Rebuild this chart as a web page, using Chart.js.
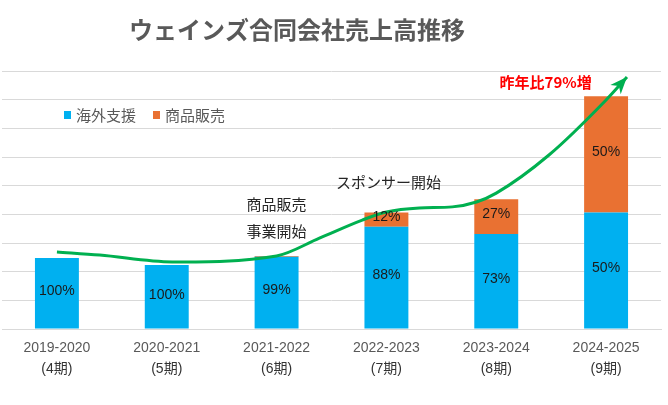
<!DOCTYPE html>
<html lang="ja">
<head>
<meta charset="utf-8">
<script src="https://cdn.jsdelivr.net/npm/chart.js@4.4.1/dist/chart.umd.min.js"></script>
<style>
html,body{margin:0;padding:0;background:#fff;}
#wrap{width:668px;height:405px;}
</style>
</head>
<body>
<div id="wrap"><canvas id="salesChart" width="668" height="405"></canvas></div>
<script>
// 売上（相対値、目盛は非表示）
const periods = [['2019-2020','(4期)'],['2020-2021','(5期)'],['2021-2022','(6期)'],['2022-2023','(7期)'],['2023-2024','(8期)'],['2024-2025','(9期)']];
const overseasSupport = [2.48, 2.23, 2.52, 3.57, 3.31, 4.06];
const productSales = [0, 0, 0.03, 0.49, 1.22, 4.06];
const overseasPct = ['100%','100%','99%','88%','73%','50%'];
const productPct = ['','','','12%','27%','50%'];
// 手書き風の成長トレンド線
const trendX = [0, 0.39, 1.05, 2, 2.39, 2.78, 3, 3.3, 3.6, 3.82, 4, 4.48, 5, 5.19];
const trendY = [2.69, 2.58, 2.34, 2.55, 3.17, 3.8, 4.08, 4.22, 4.26, 4.43, 4.74, 6.07, 7.99, 8.79];
const yMax = 9;
const notes = [
  {text:'商品販売', x:2, y:4.36, color:'#262626', bold:false},
  {text:'事業開始', x:2, y:3.42, color:'#262626', bold:false},
  {text:'スポンサー開始', x:3.02, y:5.13, color:'#262626', bold:false},
  {text:'昨年比79%増', x:4.45, y:8.61, color:'#ff0000', bold:true}
];

const FONT = "'Liberation Sans','Noto Sans CJK JP',sans-serif";
const JPFONT = "'Noto Sans CJK JP','Liberation Sans',sans-serif";

const decorPlugin = {
  id:'decor',
  afterDatasetsDraw(chart){
    const ctx = chart.ctx, xs = chart.scales.x2, ys = chart.scales.y, xc = chart.scales.x;
    ctx.save();
    // bar percentage labels
    ctx.font = '14px ' + FONT; ctx.fillStyle = '#1a1a1a';
    ctx.textAlign = 'center'; ctx.textBaseline = 'middle';
    [[1, overseasPct],[2, productPct]].forEach(([di, pcts])=>{
      chart.getDatasetMeta(di).data.forEach((bar,i)=>{
        if(!pcts[i]) return;
        ctx.fillText(pcts[i], bar.x, (bar.y + bar.base)/2 - 2);
      });
    });
    // x labels: year line grey, period line darker
    periods.forEach((p,i)=>{
      const px = xc.getPixelForTick(i);
      ctx.font = '14px ' + FONT;
      ctx.fillStyle = '#595959'; ctx.fillText(p[0], px, xc.top + 19);
      ctx.fillStyle = '#333333'; ctx.fillText(p[1], px, xc.top + 40);
    });
    // arrow head at the end of the trend line
    const pts = chart.getDatasetMeta(0).data;
    const a = pts[pts.length-2], b = pts[pts.length-1];
    const ang = Math.atan2(b.y - a.y, b.x - a.x);
    const c = Math.cos(ang), s = Math.sin(ang);
    ctx.fillStyle = '#00b050';
    ctx.beginPath();
    ctx.moveTo(b.x, b.y);
    ctx.lineTo(b.x - 17*c + 7*s, b.y - 17*s - 7*c);
    ctx.lineTo(b.x - 12*c, b.y - 12*s);
    ctx.lineTo(b.x - 17*c - 7*s, b.y - 17*s + 7*c);
    ctx.closePath(); ctx.fill();
    // notes
    notes.forEach(n=>{
      ctx.font = (n.bold ? 'bold ' : '') + '15px ' + JPFONT;
      ctx.fillStyle = n.color;
      ctx.fillText(n.text, xs.getPixelForValue(n.x), ys.getPixelForValue(n.y));
    });
    // legend inside plot
    let lx = 64;
    [1,2].forEach(di=>{
      const ds = chart.data.datasets[di];
      ctx.fillStyle = ds.backgroundColor;
      ctx.fillRect(lx, 111, 7, 8);
      ctx.font = '15px ' + JPFONT; ctx.fillStyle = '#595959'; ctx.textAlign = 'left';
      ctx.fillText(ds.label, lx + 12, 115);
      lx += 12 + ctx.measureText(ds.label).width + 17;
    });
    // title
    ctx.font = 'bold 24px ' + JPFONT; ctx.fillStyle = '#595959'; ctx.textAlign = 'center';
    ctx.fillText('ウェインズ合同会社売上高推移', 297, 30);
    ctx.restore();
  }
};

new Chart(document.getElementById('salesChart'), {
  type:'bar',
  data:{
    labels: periods,
    datasets:[
      { type:'line', label:'trend', data: trendX.map((x,i)=>({x, y:trendY[i]})), xAxisID:'x2', stack:'trend',
        borderColor:'#00b050', borderWidth:3, pointRadius:0, cubicInterpolationMode:'monotone', order:0 },
      { label:'海外支援', data: overseasSupport, backgroundColor:'#00b0f0', stack:'s', grouped:false, order:1 },
      { label:'商品販売', data: productSales, backgroundColor:'#e97132', stack:'s', grouped:false, order:1 }
    ]
  },
  options:{
    responsive:false, animation:false, devicePixelRatio:1,
    layout:{ padding:{ top:71, left:2, right:7, bottom:0 } },
    datasets:{ bar:{ categoryPercentage:1, barPercentage:0.4 } },
    plugins:{ legend:{display:false}, title:{display:false}, tooltip:{enabled:false} },
    scales:{
      x:{ stacked:true, grid:{ display:false, drawTicks:false }, border:{ color:'#d9d9d9' },
          ticks:{ color:'rgba(0,0,0,0)', font:{ size:14, family:FONT, lineHeight:1.5 }, padding:8, maxRotation:0 },
          afterFit(scale){ scale.height = 76; } },
      x2:{ type:'linear', display:false, offset:false, min:-0.5, max:5.5, grid:{offset:false} },
      y:{ stacked:true, min:0, max:yMax, ticks:{ display:false, stepSize:1 },
          grid:{ color:'#d9d9d9', drawTicks:false }, border:{ display:false } }
    }
  },
  plugins:[decorPlugin]
});
</script>
</body>
</html>
